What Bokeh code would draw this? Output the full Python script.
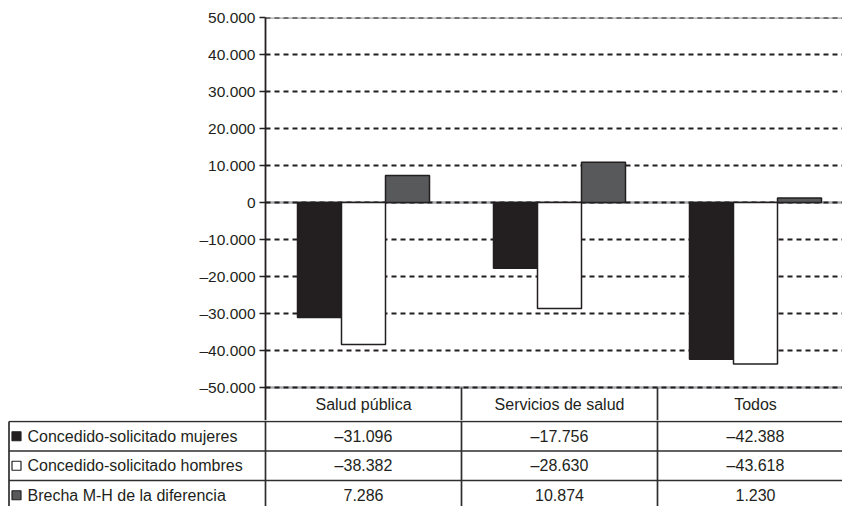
from bokeh.plotting import figure
from bokeh.models import Range1d, FixedTicker, ColumnDataSource
from bokeh.embed import file_html
from bokeh.resources import INLINE
from bokeh.core.properties import value

# ---------------- data ----------------
categories = ["Salud pública", "Servicios de salud", "Todos"]
series_names = ["Concedido-solicitado mujeres",
                "Concedido-solicitado hombres",
                "Brecha M-H de la diferencia"]
mujeres = [-31096, -17756, -42388]
hombres = [-38382, -28630, -43618]
brecha = [7286, 10874, 1230]
y_ticks = [-50000, -40000, -30000, -20000, -10000, 0, 10000, 20000, 30000, 40000, 50000]
y_tick_labels = ["–50.000", "–40.000", "–30.000", "–20.000", "–10.000", "0",
                 "10.000", "20.000", "30.000", "40.000", "50.000"]

# ---------------- styles / geometry ----------------
FONT_NAME = "Liberation Sans"
FONT = value(FONT_NAME)
FS = "16px"
INK = "#231f20"
fills = ["#231f20", "#ffffff", "#58595b"]
LINE = "#2e2e2e"

W = 842
PX_CAT = 196.0
LEFT = 265
TOP = 17
FRAME_W = W - LEFT
FRAME_H = 403
X_END = FRAME_W / PX_CAT
UNIT = 10000.0 / 37.0          # data units per pixel
Y_TOP = 50000
Y_START = Y_TOP - FRAME_H * UNIT

bar_w = 0.2245
offsets = [-bar_w, 0.0, bar_w]
series = [mujeres, hombres, brecha]

# ---------------- chart ----------------
p = figure(width=W, height=TOP + FRAME_H, output_backend="svg", toolbar_location=None,
           x_range=Range1d(0, X_END), y_range=Range1d(Y_START, Y_TOP),
           x_axis_location=None, min_border_left=LEFT, min_border_right=0,
           min_border_top=TOP, min_border_bottom=0)
p.outline_line_color = None
p.xgrid.visible = False
p.ygrid.visible = False

yax = p.yaxis[0]
yax.ticker = FixedTicker(ticks=y_ticks)
yax.major_label_overrides = {t: l for t, l in zip(y_ticks, y_tick_labels)}
yax.major_label_text_font = FONT_NAME
yax.major_label_text_font_size = "15.5px"
yax.major_label_text_color = INK
yax.major_tick_in = 0
yax.major_tick_out = 6
yax.major_tick_line_width = 1.5
yax.major_tick_line_color = INK
yax.minor_tick_line_color = None
yax.axis_line_color = INK
yax.axis_line_width = 1.8
yax.major_label_standoff = 4

p.hspan(y=[y_ticks[-1], 0, y_ticks[0]], line_color="#a7a9ac", line_width=2.5)
p.hspan(y=y_ticks, line_color=INK, line_width=2, line_dash="5 4")

cx = [i + 0.5 for i in range(len(categories))]
for s, vals in enumerate(series):
    src = ColumnDataSource(dict(x=[c + offsets[s] for c in cx], top=vals,
                                bottom=[0] * len(vals)))
    p.vbar(x="x", top="top", bottom="bottom", width=bar_w, source=src,
           fill_color=fills[s], line_color=INK, line_width=1.5)

y_header = (y_ticks[0] + Y_START) / 2.0
p.text(x=cx, y=[y_header] * len(cx), text=categories, text_font=FONT,
       text_font_size=FS, text_color=INK, text_align="center", text_baseline="middle")
p.segment(x0=[1, 2], y0=[y_ticks[0]] * 2, x1=[1, 2], y1=[Y_START] * 2,
          line_color=LINE, line_width=1.7)

# ---------------- data table ----------------
ROW_H = 29.5
T_H = 86
x0_tab = -LEFT / PX_CAT
t = figure(width=W, height=T_H, output_backend="svg", toolbar_location=None,
           x_range=Range1d(x0_tab, X_END),
           y_range=Range1d((T_H - 1) / ROW_H, -1 / ROW_H),
           x_axis_location=None, y_axis_location=None, min_border=0)
t.outline_line_color = None
t.xgrid.visible = False
t.ygrid.visible = False

border_x = x0_tab + 8.5 / PX_CAT
nrows = len(series_names)
t.segment(x0=[border_x] * (nrows + 1), y0=list(range(nrows + 1)),
          x1=[X_END] * (nrows + 1), y1=list(range(nrows + 1)),
          line_color=LINE, line_width=1.7)
t.segment(x0=[0, 1, 2], y0=[-1 / ROW_H] * 3, x1=[0, 1, 2], y1=[nrows] * 3,
          line_color=LINE, line_width=1.7)
t.segment(x0=[border_x], y0=[0], x1=[border_x], y1=[nrows],
          line_color=LINE, line_width=1.7)

rows_y = [r + 0.5 for r in range(nrows)]
t.scatter(x=[x0_tab + 16 / PX_CAT] * nrows, y=rows_y, marker="square", size=9,
          fill_color=fills, line_color=INK, line_width=1.2)
t.text(x=[x0_tab + 27 / PX_CAT] * nrows, y=rows_y, text=series_names, text_font=FONT,
       text_font_size=FS, text_color=INK, text_align="left", text_baseline="middle")


def fmt(v):
    s = f"{abs(v):,}".replace(",", ".")
    return ("–" + s) if v < 0 else s


tx, ty, tt = [], [], []
for r, vals in enumerate(series):
    for c, v in enumerate(vals):
        tx.append(cx[c])
        ty.append(r + 0.5)
        tt.append(fmt(v))
t.text(x=tx, y=ty, text=tt, text_font=FONT, text_font_size=FS, text_color=INK,
       text_align="center", text_baseline="middle")

open("out.html", "w").write(file_html([p, t], INLINE))
